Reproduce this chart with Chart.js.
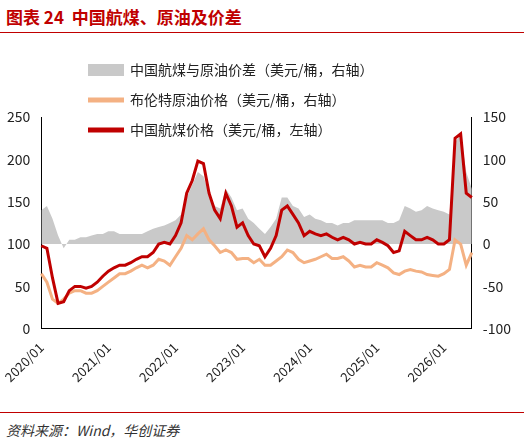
<!DOCTYPE html>
<html><head><meta charset="utf-8">
<script src="https://cdn.jsdelivr.net/npm/chart.js@4"></script>
<style>
body{margin:0;width:524px;height:445px;background:#fff;font-family:"Noto Sans CJK SC",sans-serif;position:relative}
#title{position:absolute;left:6px;top:4px;color:#c00000;font-weight:bold;font-size:17px}
#rule{position:absolute;left:0;top:32px;width:524px;border-top:1.5px solid #c00000}
#wrap{position:absolute;left:0;top:36px;width:524px;height:352px}
#src{position:absolute;left:6px;top:420px;font-size:14px;font-style:italic;color:#333}
#rule2{position:absolute;left:0;top:412px;width:524px;border-top:1px solid #c00000}
</style></head><body>
<div id="title">图表 24&nbsp; 中国航煤、原油及价差</div>
<div id="rule"></div>
<div id="wrap"><canvas id="c"></canvas></div>
<div id="rule2"></div>
<div id="src">资料来源：Wind，华创证券</div>
<script>
const years = ['2020','2021','2022','2023','2024','2025','2026'];
const months = [];
years.forEach(y => { for (let m = 1; m <= 12; m++) months.push(y + '/' + String(m).padStart(2, '0')); });
const labels = months.slice(0, 78);
const jetFuel = [98,95,60,30,32,45,50,50,48,50,55,62, 68,72,75,75,78,82,85,85,90,100,102,100,
  110,125,160,175,198,195,160,140,130,160,145,120, 125,110,100,98,85,95,110,140,145,135,125,110,
  115,112,110,112,108,105,108,105,100,102,100,100, 105,102,98,90,92,115,110,105,105,108,105,100,
  100,105,225,230,160,155];
const brent = [65,55,35,30,35,42,45,45,42,42,45,50, 55,60,65,65,68,72,75,72,75,82,80,75,
  85,95,110,105,112,118,105,98,90,93,90,82, 83,83,78,82,75,75,80,85,93,90,82,78,
  80,82,85,88,83,83,85,80,73,75,73,73, 78,75,72,66,64,68,70,68,67,64,63,62,
  65,70,105,100,75,90];
const spread = [40,45,30,10,-5,5,5,8,8,10,12,12, 15,15,12,12,12,12,12,15,18,20,22,25,
  28,35,55,70,85,80,60,45,42,65,55,40, 42,30,25,18,12,20,30,55,55,45,42,32,
  35,30,28,25,25,22,25,25,28,28,28,28, 28,28,25,25,28,45,42,38,40,45,42,40,
  38,35,120,130,85,65];
const tickLabels = ['2020/01','2021/01','2022/01','2023/01','2024/01','2025/01','2026/01'];

const legendPlugin = {
  id: 'customLegend',
  afterDraw(chart) {
    const ctx = chart.ctx;
    const ds = chart.data.datasets;
    ctx.save();
    ctx.font = '14px "Noto Sans CJK SC"';
    ctx.textBaseline = 'middle';
    ds.forEach((d, k) => {
      const y = 34 + k * 30, x = 88;
      if (d.fill) {
        ctx.fillStyle = d.backgroundColor;
        ctx.fillRect(x, y - 6, 36, 12);
      } else {
        ctx.strokeStyle = d.borderColor;
        ctx.lineWidth = d.borderWidth + 2;
        ctx.beginPath(); ctx.moveTo(x, y); ctx.lineTo(x + 36, y); ctx.stroke();
      }
      ctx.fillStyle = '#222';
      ctx.fillText(d.label, x + 42, y);
    });
    ctx.restore();
  }
};

new Chart(document.getElementById('c'), {
  type: 'line',
  data: {
    labels: labels,
    datasets: [
      { label: '中国航煤与原油价差（美元/桶，右轴）', data: spread, yAxisID: 'y1', fill: 'origin',
        backgroundColor: '#c9c9c9', borderColor: '#c9c9c9', borderWidth: 0, pointRadius: 0, tension: 0, order: 3 },
      { label: '布伦特原油价格（美元/桶，右轴）', data: brent, yAxisID: 'y', fill: false,
        borderColor: '#f4b183', borderWidth: 3, pointRadius: 0, tension: 0, order: 2 },
      { label: '中国航煤价格（美元/桶，左轴）', data: jetFuel, yAxisID: 'y', fill: false,
        borderColor: '#c00000', borderWidth: 3, pointRadius: 0, tension: 0, order: 1 }
    ]
  },
  options: {
    responsive: true, maintainAspectRatio: false, animation: false,
    layout: { padding: { top: 81, right: 10, left: 4 } },
    plugins: { legend: { display: false }, tooltip: { enabled: false } },
    scales: {
      x: {
        grid: { display: false }, border: { color: '#000' },
        ticks: {
          autoSkip: false, maxRotation: 45, minRotation: 45, color: '#222',
          font: { size: 13, family: 'Noto Sans CJK SC' },
          callback: function (v) { const l = this.getLabelForValue(v); return tickLabels.includes(l) ? l : null; }
        }
      },
      y: {
        min: 0, max: 250, grid: { display: false }, border: { color: '#000' },
        ticks: { stepSize: 50, color: '#222', font: { size: 14, family: 'Noto Sans CJK SC' } }
      },
      y1: {
        position: 'right', min: -100, max: 150, grid: { display: false }, border: { color: '#000' },
        ticks: { stepSize: 50, color: '#222', font: { size: 14, family: 'Noto Sans CJK SC' } }
      }
    }
  },
  plugins: [legendPlugin]
});
</script>
</body></html>
